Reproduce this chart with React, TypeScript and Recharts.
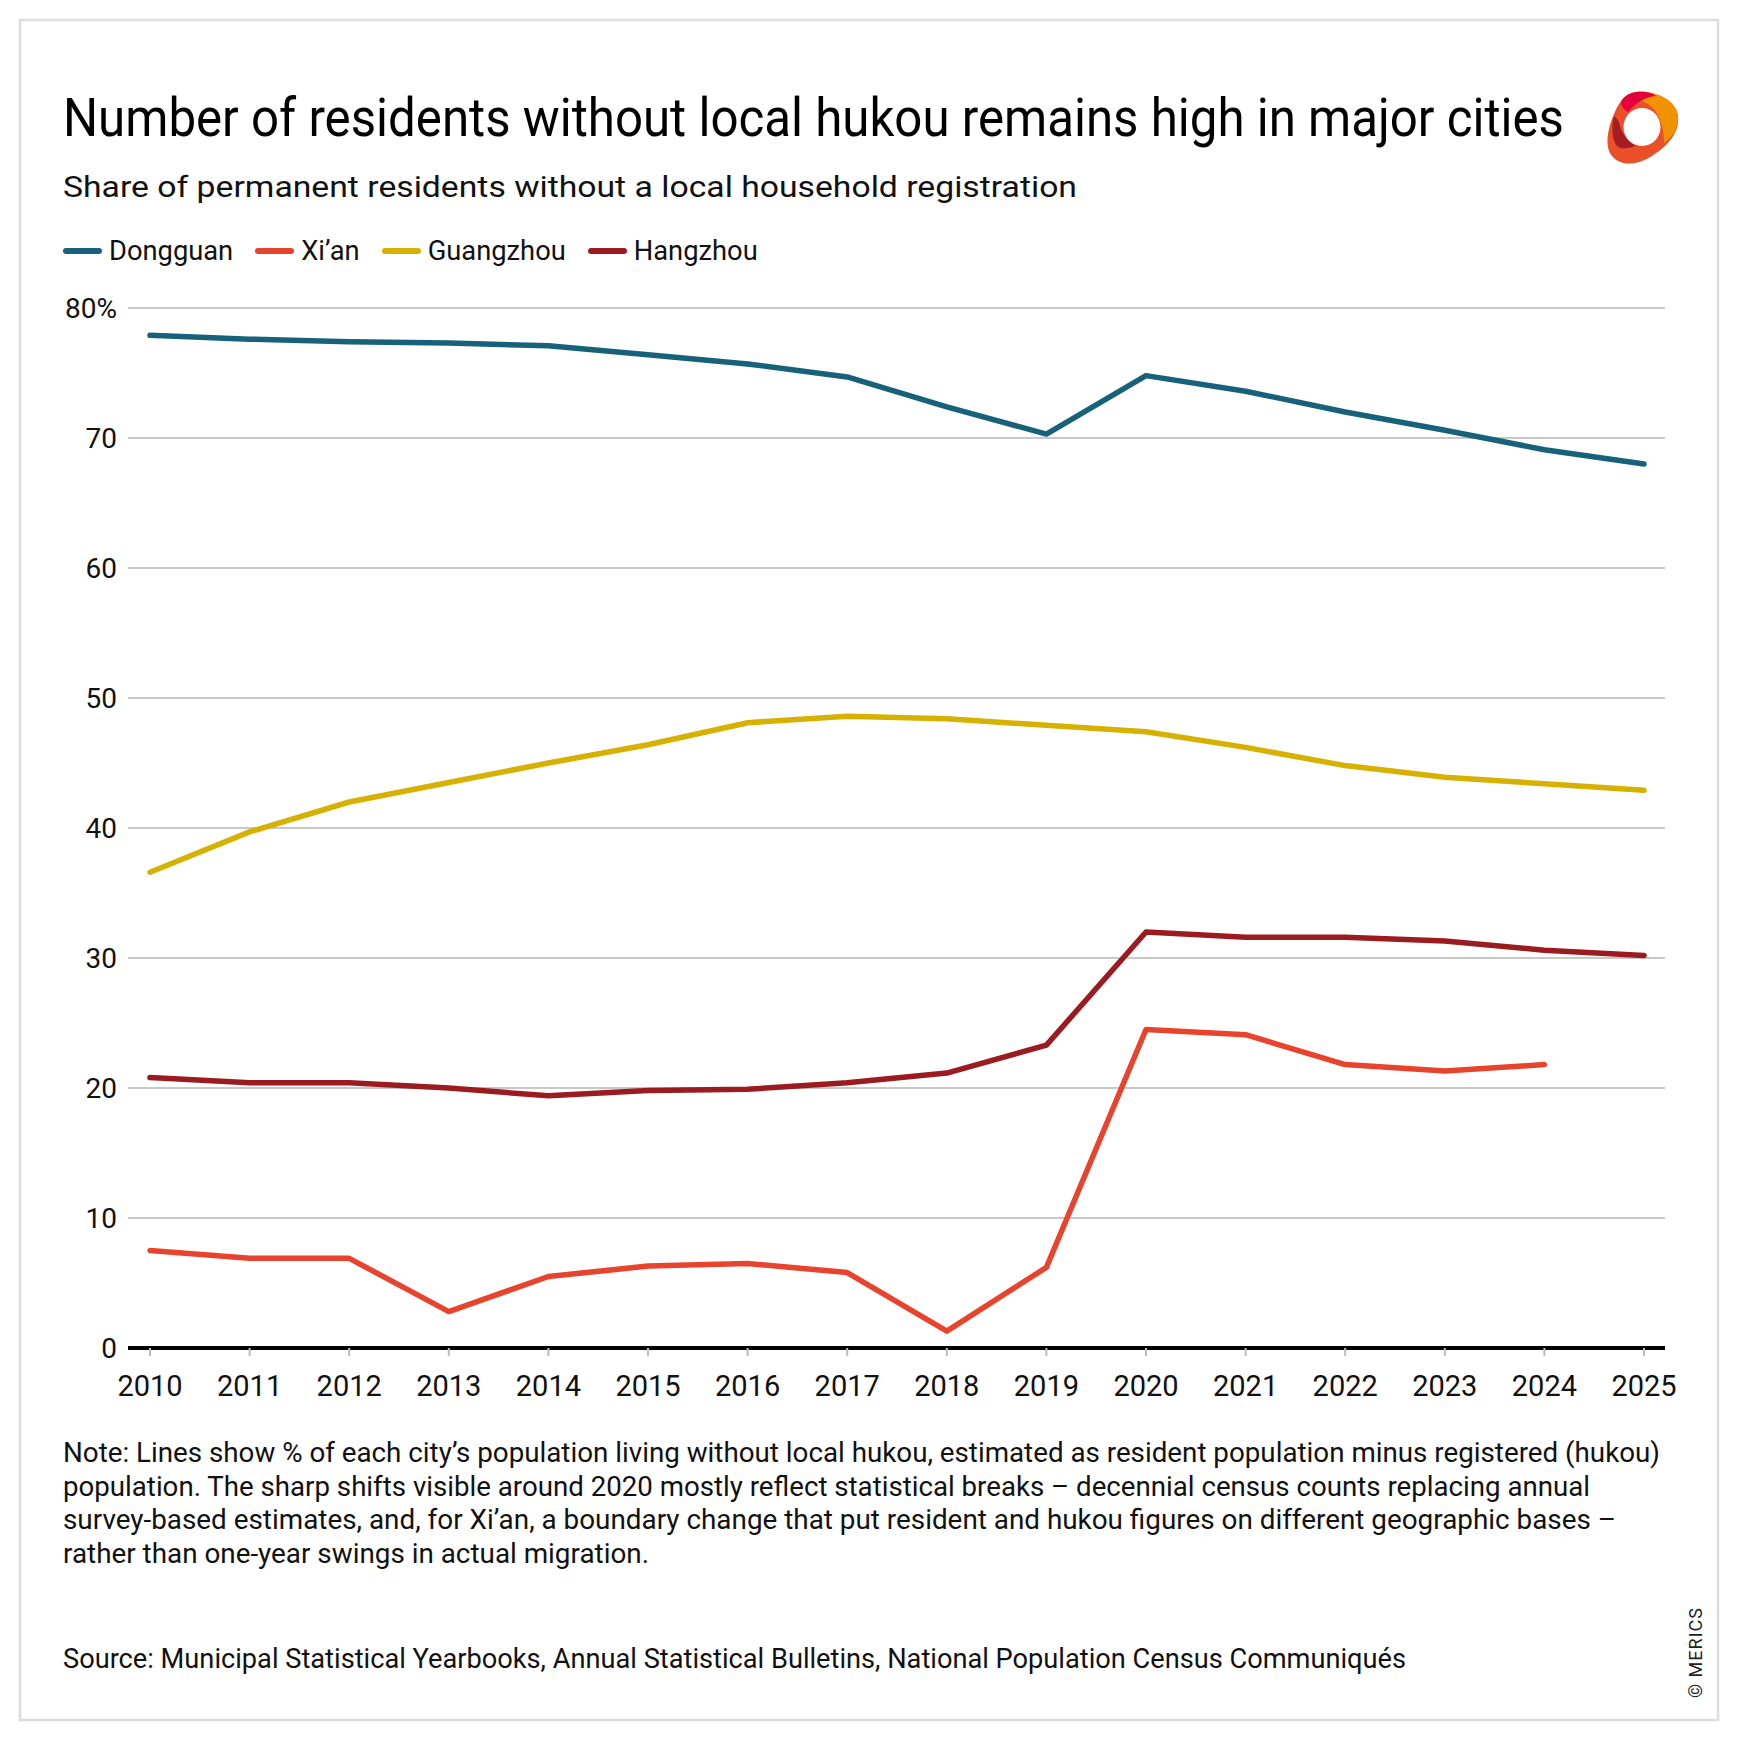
import { LineChart, Line, XAxis, YAxis, CartesianGrid } from 'recharts';

const years = [2010, 2011, 2012, 2013, 2014, 2015, 2016, 2017, 2018, 2019, 2020, 2021, 2022, 2023, 2024, 2025];

const dongguan = [77.9, 77.6, 77.4, 77.3, 77.1, 76.4, 75.7, 74.7, 72.4, 70.3, 74.8, 73.6, 72.0, 70.6, 69.1, 68.0];
const xian = [7.5, 6.9, 6.9, 2.8, 5.5, 6.3, 6.5, 5.8, 1.3, 6.2, 24.5, 24.1, 21.8, 21.3, 21.8, null];
const guangzhou = [36.6, 39.7, 42.0, 43.5, 45.0, 46.4, 48.1, 48.6, 48.4, 47.9, 47.4, 46.2, 44.8, 43.9, 43.4, 42.9];
const hangzhou = [20.8, 20.4, 20.4, 20.0, 19.4, 19.8, 19.9, 20.4, 21.15, 23.3, 32.0, 31.6, 31.6, 31.3, 30.6, 30.2];

const yTicks = [0, 10, 20, 30, 40, 50, 60, 70, 80];

const series = [
  { key: 'dongguan', name: 'Dongguan', color: '#17627a' },
  { key: 'xian', name: 'Xi\u2019an', color: '#e8432d' },
  { key: 'guangzhou', name: 'Guangzhou', color: '#d6b100' },
  { key: 'hangzhou', name: 'Hangzhou', color: '#9b1c20' },
];

const data = years.map((year, i) => ({
  year,
  dongguan: dongguan[i],
  xian: xian[i],
  guangzhou: guangzhou[i],
  hangzhou: hangzhou[i],
}));

const noteLines = [
  'Note: Lines show % of each city\u2019s population living without local hukou, estimated as resident population minus registered (hukou)',
  'population. The sharp shifts visible around 2020 mostly reflect statistical breaks \u2013 decennial census counts replacing annual',
  'survey-based estimates, and, for Xi\u2019an, a boundary change that put resident and hukou figures on different geographic bases \u2013',
  'rather than one-year swings in actual migration.',
];
const noteWidths = [1597, 1527, 1553, 586];

const FONT = 'Roboto, sans-serif';

const Logo = () => (
  <g>
    <path d="M1636 92 C1655 90 1676 100 1678 116 C1680 132 1668 146 1652 156 C1640 164 1622 168 1612 156 C1604 146 1608 128 1614 114 C1620 100 1626 93 1636 92 Z" fill="#e9502a" />
    <path d="M1636 92 C1655 90 1676 100 1678 116 C1679 128 1672 138 1664 143 C1664 128 1660 112 1648 104 C1640 99 1632 99 1626 103 C1628 97 1631 93 1636 92 Z" fill="#f39200" />
    <path d="M1636 92 C1646 91 1652 93 1656 96 C1646 97 1636 102 1628 112 C1622 108 1620 104 1622 100 C1626 95 1630 93 1636 92 Z" fill="#e4003a" />
    <path d="M1614 116 C1611 128 1612 140 1617 146 C1622 150 1630 148 1636 146 C1628 142 1622 134 1620 126 C1619 121 1617 118 1614 116 Z" fill="#a51d24" />
    <ellipse cx="1642" cy="127" rx="18.5" ry="19" fill="#ffffff" />
  </g>
);

export default function App() {
  return (
    <div style={{ position: 'absolute', left: 0, top: 0, width: 1740, height: 1744, background: '#ffffff', fontFamily: FONT }}>
      <svg width={1740} height={1744} style={{ position: 'absolute', left: 0, top: 0 }}>
        <rect x={20} y={20} width={1698} height={1700} fill="#ffffff" stroke="#dcdcdc" strokeWidth={2.5} />
        <text x={63} y={136} fontSize={53} fill="#000" fontFamily={FONT} textLength={1501} lengthAdjust="spacingAndGlyphs">
          Number of residents without local hukou remains high in major cities
        </text>
        <text x={63} y={197} fontSize={30} fill="#111" fontFamily={FONT} textLength={1014} lengthAdjust="spacingAndGlyphs">
          Share of permanent residents without a local household registration
        </text>
        {noteLines.map((line, i) => (
          <text key={i} x={63} y={1462 + i * 33.7} fontSize={27} fill="#111" fontFamily={FONT} textLength={noteWidths[i]} lengthAdjust="spacingAndGlyphs">
            {line}
          </text>
        ))}
        <text x={63} y={1668} fontSize={27} fill="#111" fontFamily={FONT} textLength={1343} lengthAdjust="spacingAndGlyphs">
          Source: Municipal Statistical Yearbooks, Annual Statistical Bulletins, National Population Census Communiqués
        </text>
        <text x={1702} y={1698} fontSize={18} fill="#222" fontFamily={FONT} transform="rotate(-90 1702 1698)" letterSpacing={1}>
          © MERICS
        </text>
        <Logo />
      </svg>

      <div style={{ position: 'absolute', left: 63, top: 236, display: 'flex', alignItems: 'center', height: 30, fontSize: 27.3, lineHeight: '30px', color: '#111' }}>
        {series.map((s) => (
          <div key={s.key} style={{ display: 'flex', alignItems: 'center', marginRight: 22 }}>
            <div style={{ width: 39, height: 6, borderRadius: 3, background: s.color, marginRight: 7 }} />
            <span>{s.name}</span>
          </div>
        ))}
      </div>

      <div style={{ position: 'absolute', left: 0, top: 0 }}>
        <LineChart width={1740} height={1420} data={data} margin={{ top: 308, right: 75, bottom: 12, left: 0 }}>
          <CartesianGrid vertical={false} stroke="#c8c8c8" strokeWidth={2} />
          <XAxis
            dataKey="year"
            type="number"
            domain={[2010, 2025]}
            ticks={years}
            padding={{ left: 22, right: 21 }}
            height={60}
            axisLine={{ stroke: '#000', strokeWidth: 4 }}
            tickLine={{ stroke: '#bdbdbd', strokeWidth: 2 }}
            tickSize={8}
            tickMargin={19}
            tick={{ fontSize: 29, fill: '#111', fontFamily: FONT }}
            interval={0}
          />
          <YAxis
            type="number"
            domain={[0, 80]}
            ticks={yTicks}
            width={128}
            axisLine={false}
            tickLine={false}
            tickSize={0}
            tickMargin={11}
            tick={{ fontSize: 28, fill: '#111', fontFamily: FONT }}
            tickFormatter={(v) => (v === 80 ? '80%' : String(v))}
            interval={0}
          />
          {series.map((s) => (
            <Line
              key={s.key}
              dataKey={s.key}
              name={s.name}
              stroke={s.color}
              strokeWidth={5.5}
              strokeLinecap="round"
              strokeLinejoin="round"
              dot={false}
              activeDot={false}
              type="linear"
              isAnimationActive={false}
            />
          ))}
        </LineChart>
      </div>
    </div>
  );
}
